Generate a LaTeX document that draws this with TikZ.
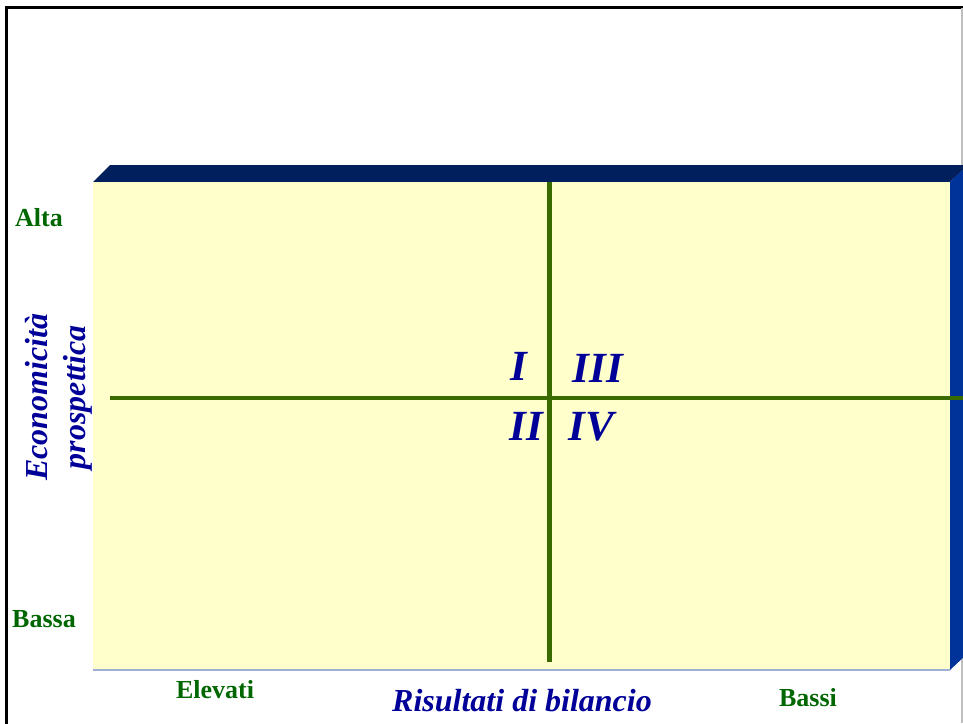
\documentclass[tikz,border=0pt]{standalone}
\usepackage{fontspec}
\setmainfont{Liberation Serif}
\definecolor{frontc}{HTML}{FFFFCC}
\definecolor{topc}{HTML}{001F5C}
\definecolor{sidec}{HTML}{003399}
\definecolor{axisg}{HTML}{3A6B00}
\definecolor{labg}{HTML}{006600}
\definecolor{labb}{HTML}{000099}
\definecolor{edgec}{HTML}{A0B0D4}
\tikzset{
  greenlab/.style={text=labg, font=\fontsize{26}{30}\selectfont\bfseries, inner sep=0pt, anchor=base},
  bluelab/.style={text=labb, font=\fontsize{32}{36}\selectfont\bfseries\itshape, inner sep=0pt, anchor=base},
  roman/.style={text=labb, font=\fontsize{43}{46}\selectfont\bfseries\itshape, inner sep=0pt, anchor=base},
  axisline/.style={draw=axisg, line width=4.5pt},
}
\begin{document}
\begin{tikzpicture}[x=1pt,y=-1pt]
\useasboundingbox (0,0) rectangle (963,723);
\begin{scope}
\clip (0,0) rectangle (963,723);
% frame
\draw[black, line width=3pt] (6,724) -- (6,7) -- (964,7);
\draw[gray!50, line width=1.5pt] (962,8) -- (962,723);
% box
\fill[topc] (93,182) -- (110,165) -- (968,165) -- (950,182) -- cycle;
\fill[sidec] (950,182) -- (968,165) -- (968,653) -- (950,670) -- cycle;
\fill[frontc] (93,182) rectangle (950,670);
\draw[edgec, line width=1.5pt] (93,670) -- (950,670);
% axes
\coordinate (hl) at (110,398);
\coordinate (hr) at (965,398);
\coordinate (vt) at (549.5,182);
\coordinate (vb) at (549.5,662);
\draw[axisline] (hl) -- (hr);
\draw[axisline] (vt) -- (vb);
\end{scope}
% numerals
\node[roman] (q1) at (519,380) {I};
\node[roman] (q3) at (598,382) {III};
\node[roman] (q2) at (526,440) {II};
\node[roman] (q4) at (591,440) {IV};
% labels
\node[greenlab] (alta) at (39,226) {Alta};
\node[greenlab] (bassa) at (44,627) {Bassa};
\node[greenlab] (elev) at (215,698) {Elevati};
\node[greenlab] (bassi) at (808,706) {Bassi};
\node[bluelab] (risb) at (522,711) {Risultati di bilancio};
\node[bluelab, rotate=90] (eco1) at (47,397) {Economicità};
\node[bluelab, rotate=90] (eco2) at (85,397) {prospettica};
\end{tikzpicture}
\end{document}
